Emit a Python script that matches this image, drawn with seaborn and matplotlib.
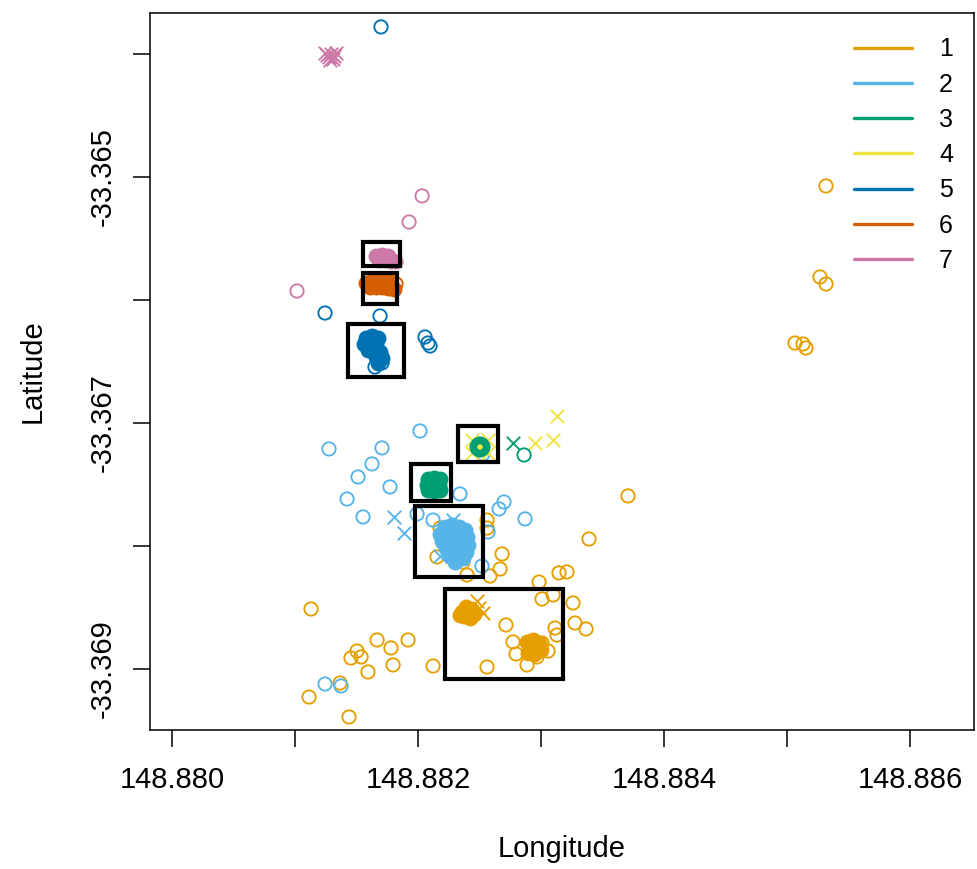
import matplotlib
matplotlib.use("Agg")
import matplotlib.pyplot as plt
from matplotlib.lines import Line2D
from matplotlib.patches import Rectangle
import seaborn as sns

# ---------------- data ----------------
GROUPS = ["1", "2", "3", "4", "5", "6", "7"]
COLORS = ["#E69F00", "#56B4E9", "#009E73", "#F0E442", "#0072B2", "#D55E00", "#CC79A7"]

G1_CIRCLES = [
    (148.885317, -33.365073), (148.885268, -33.365813), (148.885317, -33.365870),
    (148.885065, -33.366350), (148.885130, -33.366358), (148.885154, -33.366390),
    (148.883707, -33.367593), (148.883390, -33.367943), (148.882561, -33.367789),
    (148.882561, -33.367854), (148.882683, -33.368065), (148.882667, -33.368187),
    (148.882585, -33.368244), (148.882398, -33.368236), (148.882984, -33.368293),
    (148.883146, -33.368219), (148.883211, -33.368211), (148.882179, -33.367854),
    (148.882154, -33.368089), (148.882366, -33.368130), (148.883098, -33.368398),
    (148.883008, -33.368431), (148.883260, -33.368463), (148.883276, -33.368626),
    (148.883366, -33.368675), (148.883114, -33.368667), (148.883130, -33.368724),
    (148.882715, -33.368642), (148.882772, -33.368780), (148.882797, -33.368878),
    (148.882886, -33.368967), (148.882967, -33.368902), (148.883057, -33.368854),
    (148.883008, -33.368789), (148.882561, -33.368984), (148.882122, -33.368976),
    (148.881130, -33.368512), (148.881667, -33.368764), (148.881780, -33.368829),
    (148.881919, -33.368764), (148.881504, -33.368854), (148.881455, -33.368911),
    (148.881537, -33.368902), (148.881593, -33.369024), (148.881797, -33.368967),
    (148.881114, -33.369228), (148.881366, -33.369114), (148.881439, -33.369390),
]
G1_CROSSES = [(148.882480, -33.368447), (148.882528, -33.368545),
              (148.882496, -33.368504), (148.882276, -33.368081)]
G1_CORE = [
    (148.882358, -33.368537), (148.882390, -33.368520), (148.882423, -33.368537),
    (148.882374, -33.368569), (148.882406, -33.368569), (148.882439, -33.368520),
    (148.882390, -33.368496), (148.882341, -33.368561), (148.882455, -33.368553),
    (148.882423, -33.368585),
    (148.882886, -33.368780), (148.882935, -33.368764), (148.882984, -33.368789),
    (148.882911, -33.368829), (148.882959, -33.368829), (148.883000, -33.368846),
    (148.882894, -33.368870), (148.882943, -33.368878), (148.882919, -33.368805),
    (148.882976, -33.368813),
]

G2_CIRCLES = [
    (148.881276, -33.367211), (148.882016, -33.367065), (148.881707, -33.367203),
    (148.881626, -33.367333), (148.881512, -33.367439), (148.881772, -33.367520),
    (148.881423, -33.367618), (148.881553, -33.367764), (148.881992, -33.367740),
    (148.882122, -33.367789), (148.882341, -33.367577), (148.882699, -33.367642),
    (148.882659, -33.367699), (148.882870, -33.367780), (148.882569, -33.367886),
    (148.882520, -33.368163), (148.881244, -33.369122), (148.881374, -33.369138),
    (148.882528, -33.367252),
]
G2_CROSSES = [(148.881805, -33.367764), (148.881886, -33.367894),
              (148.882285, -33.367789), (148.882179, -33.368081)]
G2_CORE = [
    (148.882219, -33.367845), (148.882276, -33.367829), (148.882333, -33.367845),
    (148.882382, -33.367870), (148.882179, -33.367902), (148.882236, -33.367894),
    (148.882293, -33.367894), (148.882350, -33.367911), (148.882398, -33.367927),
    (148.882195, -33.367959), (148.882252, -33.367959), (148.882309, -33.367959),
    (148.882366, -33.367976), (148.882406, -33.367992), (148.882228, -33.368016),
    (148.882285, -33.368024), (148.882341, -33.368032), (148.882390, -33.368049),
    (148.882260, -33.368081), (148.882317, -33.368089), (148.882366, -33.368098),
    (148.882301, -33.368130),
]

G3_CIRCLES = [
    (148.882862, -33.367260),
    (148.882480, -33.367195), (148.882528, -33.367195), (148.882504, -33.367171),
    (148.882504, -33.367220), (148.882488, -33.367179), (148.882520, -33.367179),
    (148.882488, -33.367211), (148.882520, -33.367211),
]
G3_CROSSES = [(148.882772, -33.367163)]
G3_CORE = [
    (148.882081, -33.367455), (148.882130, -33.367447), (148.882179, -33.367455),
    (148.882073, -33.367504), (148.882122, -33.367504), (148.882171, -33.367504),
    (148.882081, -33.367545), (148.882130, -33.367553), (148.882179, -33.367545),
]

G4_CIRCLES = []
G4_CROSSES = [(148.883130, -33.366943), (148.883098, -33.367138), (148.882951, -33.367163),
              (148.882439, -33.367138), (148.882569, -33.367138),
              (148.882439, -33.367244), (148.882569, -33.367244)]
G4_CORE = [(148.882504, -33.367195)]

G5_CIRCLES = [
    (148.881699, -33.363780), (148.881244, -33.366106), (148.881691, -33.366130),
    (148.882057, -33.366301), (148.882081, -33.366350), (148.882098, -33.366374),
    (148.881650, -33.366545), (148.881707, -33.366512),
]
G5_CROSSES = []
G5_CORE = [
    (148.881577, -33.366309), (148.881626, -33.366293), (148.881675, -33.366309),
    (148.881561, -33.366358), (148.881610, -33.366358), (148.881659, -33.366358),
    (148.881593, -33.366406), (148.881642, -33.366406), (148.881691, -33.366423),
    (148.881659, -33.366463), (148.881707, -33.366472), (148.881675, -33.366512),
]

G6_CIRCLES = [(148.881821, -33.365870)]
G6_CROSSES = []
G6_CORE = [
    (148.881626, -33.365846), (148.881675, -33.365837), (148.881724, -33.365846),
    (148.881772, -33.365854), (148.881610, -33.365894), (148.881659, -33.365894),
    (148.881707, -33.365894), (148.881756, -33.365902), (148.881805, -33.365911),
    (148.881577, -33.365862),
]

G7_CIRCLES = [(148.882033, -33.365154), (148.881927, -33.365366),
              (148.881016, -33.365927), (148.881821, -33.365691)]
G7_CROSSES = [(148.881260, -33.364008), (148.881293, -33.364000),
              (148.881317, -33.364016), (148.881276, -33.364024),
              (148.881244, -33.363992), (148.881309, -33.364041),
              (148.881333, -33.363992), (148.881285, -33.364049)]
G7_CORE = [
    (148.881659, -33.365642), (148.881707, -33.365634), (148.881756, -33.365642),
    (148.881683, -33.365675), (148.881732, -33.365675), (148.881780, -33.365683),
]

# highlight boxes: (lon_min, lon_max, lat_top, lat_bottom)
BOX_LON_MIN = [148.881553, 148.881553, 148.881431, 148.882325, 148.881943, 148.881976, 148.882219]
BOX_LON_MAX = [148.881854, 148.881829, 148.881886, 148.882650, 148.882268, 148.882528, 148.883179]
BOX_LAT_TOP = [-33.365528, -33.365780, -33.366195, -33.367024, -33.367333, -33.367675, -33.368350]
BOX_LAT_BOT = [-33.365724, -33.366033, -33.366626, -33.367317, -33.367634, -33.368252, -33.369081]

X_TICKS = [148.880, 148.881, 148.882, 148.883, 148.884, 148.885, 148.886]
X_TICK_LABELS = ["148.880", "", "148.882", "", "148.884", "", "148.886"]
Y_TICKS = [-33.369, -33.368, -33.367, -33.366, -33.365, -33.364]
Y_TICK_LABELS = ["-33.369", "", "-33.367", "", "-33.365", ""]

# ---------------- plotting ----------------
sns.set_style("white")
plt.rcParams["font.family"] = ["Liberation Sans", "DejaVu Sans"]
plt.rcParams["text.color"] = "black"
plt.rcParams["axes.labelcolor"] = "black"
plt.rcParams["xtick.color"] = "black"
plt.rcParams["ytick.color"] = "black"

fig = plt.figure(figsize=(9.77, 8.69), dpi=100)
ax = fig.add_axes([150 / 977, 139 / 869, 824 / 977, 717 / 869])

layers = {
    "1": (G1_CIRCLES, G1_CROSSES, G1_CORE),
    "2": (G2_CIRCLES, G2_CROSSES, G2_CORE),
    "3": (G3_CIRCLES, G3_CROSSES, G3_CORE),
    "4": (G4_CIRCLES, G4_CROSSES, G4_CORE),
    "5": (G5_CIRCLES, G5_CROSSES, G5_CORE),
    "6": (G6_CIRCLES, G6_CROSSES, G6_CORE),
    "7": (G7_CIRCLES, G7_CROSSES, G7_CORE),
}
color_of = dict(zip(GROUPS, COLORS))
order = ["1", "2", "4", "3", "5", "6", "7"]

CIRCLE_S = 92
CROSS_S = 95
LW = 1.35

for g in order:
    circles, crosses, core = layers[g]
    c = color_of[g]
    if core:
        xs, ys = zip(*core)
        size = 40 if g == "4" else CIRCLE_S + 10
        sns.scatterplot(x=list(xs), y=list(ys), ax=ax, marker="o", s=size, color=c,
                        edgecolor=c, linewidth=LW, zorder=3)
    if circles:
        xs, ys = zip(*circles)
        sns.scatterplot(x=list(xs), y=list(ys), ax=ax, marker="o", s=CIRCLE_S, color=c, zorder=3)
        coll = ax.collections[-1]
        coll.set_facecolor("none")
        coll.set_edgecolor(c)
        coll.set_linewidth(LW)
    if crosses:
        xs, ys = zip(*crosses)
        sns.scatterplot(x=list(xs), y=list(ys), ax=ax, marker="x", s=CROSS_S, color=c, zorder=3)
        coll = ax.collections[-1]
        coll.set_edgecolor(c)
        coll.set_linewidth(LW)

for x0, x1, yt, yb in zip(BOX_LON_MIN, BOX_LON_MAX, BOX_LAT_TOP, BOX_LAT_BOT):
    ax.add_patch(Rectangle((x0, yb), x1 - x0, yt - yb, fill=False,
                           edgecolor="black", linewidth=3.0, zorder=4))

ax.set_xlim(148.879821, 148.886520)
ax.set_ylim(-33.369496, -33.363667)

ax.set_xticks(X_TICKS)
ax.set_xticklabels(X_TICK_LABELS)
ax.set_yticks(Y_TICKS)
ax.set_yticklabels(Y_TICK_LABELS, rotation=90, va="center")

ax.tick_params(axis="both", which="major", direction="out", length=12, width=1.1,
               color="black", labelcolor="black", labelsize=21, bottom=True, left=True)
ax.tick_params(axis="x", pad=14)
ax.tick_params(axis="y", pad=12)

for sp in ax.spines.values():
    sp.set_visible(True)
    sp.set_color("black")
    sp.set_linewidth(1.1)

ax.set_xlabel("Longitude", fontsize=21, color="black")
ax.set_ylabel("Latitude", fontsize=21, color="black")
ax.xaxis.set_label_coords(0.5, -0.146)
ax.yaxis.set_label_coords(-0.125, 0.5)

handles = [Line2D([], [], color=c, lw=2.4) for c in COLORS]
leg = ax.legend(handles, GROUPS, frameon=False, loc="upper right",
                bbox_to_anchor=(0.993, 0.987), fontsize=18, handlelength=2.3,
                handletextpad=1.1, labelspacing=0.45, borderaxespad=0.2)
for t in leg.get_texts():
    t.set_color("black")

fig.savefig("out.png", dpi=100)
